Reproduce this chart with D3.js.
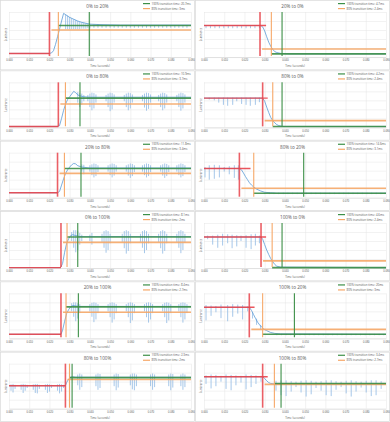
<!DOCTYPE html>
<html>
<head>
<meta charset="utf-8">
<script src="https://cdn.jsdelivr.net/npm/d3@7"></script>
<style>
  body { margin: 0; background: #fff; }
  svg { display: block; font-family: "Open Sans", "Liberation Sans", sans-serif; }
</style>
</head>
<body>
<div id="chart"></div>
<script>
// panel titles and legend texts
const titles = ["0% to 20%", "20% to 0%", "0% to 80%", "80% to 0%", "20% to 80%", "80% to 20%",
  "0% to 100%", "100% to 0%", "20% to 100%", "100% to 20%", "80% to 100%", "100% to 80%"];
const legend100 = ["20.7ms", "4.7ms", "10.9ms", "4.2ms", "11.8ms", "14.6ms",
  "8.1ms", "4.6ms", "8.4ms", "20ms", "2.3ms", "3.4ms"];
const legend80 = ["3ms", "2.4ms", "3.7ms", "2.4ms", "3.4ms", "3.1ms",
  "2ms", "2.4ms", "2.7ms", "3ms", "2ms", "2.7ms"];

// x ticks (ms)
const xTicks = [0, 10, 20, 30, 40, 50, 60, 70, 80, 90];

// marker lines (ms) and levels (% of plot height)
const tStart = [20, 27.7, 24.4, 29, 24, 17.5, 25.7, 28.2, 25.7, 22.4, 27.9, 29];
const t80 = [24.4, 33.3, 27.9, 34, 27.4, 24.6, 28.7, 33.7, 28.2, 29, 29.9, 34.8];
const t100 = [39.7, 38.6, 35.1, 38.6, 35.6, 49.3, 34, 38.6, 34.3, 44.7, 31.2, 38.1];
const levelStart = [8, 70, 2, 65, 11, 65, 1, 69, 9, 69, 51, 71];
const level80 = [60, 18, 52, 15, 54, 21, 57, 16, 58, 20, 65, 54];
const levelEnd = [70, 7, 65, 2, 65, 10, 69, 1, 70, 9, 69, 56];
const redEnd = [20, 30.7, 24.4, 31.5, 24, 23, 25.7, 30.7, 25.7, 25, 27.9, 31.5];

// luminance traces [ms, %]
const curves = [
  [[0,8],[20,8],[21,9],[22,14],[23,28],[24,45],[25,62],[26,80],[27,97],[28,94],[30,88],[32,84],[34,80],[36,77],[38,75],[40,73],[45,72],[55,71],[90,71]],
  [[0,70],[28,70],[29,67],[30,58],[31,45],[32,33],[33,24],[34,17],[35,12],[36,10],[38,8],[42,7],[90,7]],
  [[0,2],[24,2],[25,4],[26,20],[27,38],[28,52],[29,62],[30,68],[31,74],[32,80],[33,77],[34,72],[35,70],[37,68],[40,67],[90,67]],
  [[0,65],[29,65],[30,58],[31,45],[32,33],[33,22],[34,15],[35,10],[36,6],[37,4],[39,2],[90,2]],
  [[0,11],[24,11],[25,14],[26,28],[27,42],[28,54],[29,62],[30,68],[31,73],[32,76],[33,75],[34,71],[36,68],[40,66],[90,66]],
  [[0,65],[17.5,65],[18.5,62],[19.5,55],[20.5,47],[21.5,40],[22.5,33],[23.5,28],[24.5,24],[26,19],[28,15],[30,12],[33,11],[36,10],[90,10]],
  [[0,1],[25.5,1],[26.5,10],[27.5,35],[28.5,55],[29.5,65],[30.5,72],[31.5,74],[33,72],[35,70],[90,70]],
  [[0,69],[28.2,69],[29,64],[30,52],[31,40],[32,30],[33,21],[34,14],[35,8],[36,4],[38,2],[90,1]],
  [[0,9],[25.7,9],[26.5,18],[27.5,38],[28.5,55],[29.5,64],[30.5,70],[31.5,73],[33,72],[35,71],[90,71]],
  [[0,69],[22.4,69],[23.5,62],[24.5,53],[25.5,44],[26.5,36],[27.5,30],[28.5,25],[29.5,21],[31,17],[33,13],[35,11],[38,10],[90,9]],
  [[0,51],[27.9,51],[28.5,58],[29.5,66],[30.5,70],[31.5,71],[33,70],[90,70]],
  [[0,71],[29,71],[30,67],[31,62],[32,58],[33,56],[35,55],[90,55]]
];

// flicker spikes [ms, low %, high %]
const spikes = [
  [[28,62,95],[29,62,92],[30,62,89],[31,62,86],[32,62,84],[33,62,82],[34,62,80],[35,62,78],[36,63,77],[37,63,76],[38,63,75],[39,64,74],[40,64,73],
   [42,65,72],[44,65,72],[46,65,71],[48,65,71],[50,65,71],[52,65,71],[54,65,71],[56,65,71],[58,65,71],[60,65,71],[62,65,71],[64,65,71],[66,65,71],
   [68,65,71],[70,65,71],[72,65,71],[74,65,71],[76,65,71],[78,65,71],[80,65,71],[82,65,71],[84,65,71],[86,65,71],[88,65,71]],
  [[1,64,70],[3.2,64,70],[5.4,64,70],[7.6,64,70],[9.8,64,70],[12,64,70],[14.2,64,70],[16.4,64,70],[18.6,64,70],[20.8,64,70],[23,64,70],[25.2,64,70],[27.4,64,70]],
  [[34,55,78],[35,45,76],[36,50,75],[37,58,72],
   [39,58,72],[40,45,75],[41,38,77],[42,42,76],[43,55,73],
   [48,58,72],[49,45,75],[50,36,77],[51,40,76],[52,55,73],
   [57,58,72],[58,45,75],[59,38,77],[60,42,76],[61,55,73],
   [66,58,72],[67,44,75],[68,37,77],[69,41,76],[70,55,73],
   [74,58,72],[75,45,75],[76,38,77],[77,42,76],[78,55,73],
   [83,58,72],[84,45,75],[85,37,77],[86,42,76],[87,55,73]],
  [[2.6,62,66],[5.1,60,66],[7.3,55,66],[9.6,50,66],[11.7,48,66],[14.2,50,66],[16.2,58,66],[18.6,52,66],[20.8,50,66],[22.9,48,66],[25.4,50,66],[27.4,56,66]],
  [[36,58,74],[37,52,73],
   [40,58,72],[41,50,74],[42,45,76],[43,48,75],[44,57,72],
   [49,58,72],[50,50,74],[51,45,76],[52,49,75],[53,58,72],
   [58,58,72],[59,49,74],[60,44,76],[61,48,75],[62,57,72],
   [66,58,72],[67,50,74],[68,45,76],[69,48,75],[70,57,72],
   [75,58,72],[76,49,74],[77,44,76],[78,48,75],[79,57,72],
   [83,58,72],[84,50,74],[85,45,76],[86,48,75],[87,57,72]],
  [[0.5,45,68],[2.6,40,72],[5.1,42,73],[7.6,45,72],[10,58,68],[12.5,52,70],[15,44,72],[17,40,72],
   [30,8,11],[32.3,8,11],[34.6,8,11],[36.9,8,11],[39.2,8,11],[41.5,8,11],[43.8,8,11],[46.1,8,11],[48.4,8,11],[50.7,8,11],[53,8,11],
   [55.3,8,11],[57.6,8,11],[59.9,8,11],[62.2,8,11],[64.5,8,11],[66.8,8,11],[69.1,8,11],[71.4,8,11],[73.7,8,11],[76,8,11],[78.3,8,11],
   [80.6,8,11],[82.9,8,11],[85.2,8,11],[87.5,8,11],[89.5,8,11]],
  [[31,60,80],[32,45,84],[33,35,84],[34,40,82],[35,52,78],[36,60,74],
   [40,60,74],[41,52,78],
   [46,58,76],[47,45,82],[48,34,84],[49,40,82],[50,55,76],
   [56,58,76],[57,44,82],[58,32,84],[59,38,82],[60,55,76],
   [65,58,76],[66,45,82],[67,33,84],[68,40,82],[69,55,76],
   [74,58,76],[75,44,82],[76,32,84],[77,38,82],[78,55,76],
   [83,58,76],[84,45,82],[85,33,84],[86,40,82],[87,56,76]],
  [[1.8,64,72],[4.3,52,72],[6.8,45,74],[9.2,50,76],[11.7,55,75],[13.9,44,74],[16.2,48,73],[18.3,60,72],[20.8,45,73],[23.3,42,75],[25.4,50,76],[27.4,55,72]],
  [[31,60,78],[32,48,80],[33,38,80],[34,44,78],[35,56,76],
   [40,60,76],[41,48,79],[42,36,80],[43,42,79],[44,56,76],
   [49,60,76],[50,47,79],[51,35,80],[52,42,79],[53,56,76],
   [58,60,76],[59,47,79],[60,34,80],[61,40,79],[62,56,76],
   [67,60,76],[68,47,79],[69,35,80],[70,42,79],[71,56,76],
   [76,60,76],[77,47,79],[78,34,80],[79,40,79],[80,56,76],
   [84,60,76],[85,47,79],[86,35,80],[87,42,79],[88,56,76]],
  [[1,40,74],[3.5,50,73],[5.9,58,72],[8.4,45,75],[11.7,38,74],[14.2,48,76],[16.7,55,75],[19.1,42,74],[21.6,60,71],
   [24,44,58],[26,30,44],[28,20,30],
   [36,7,10],[38.3,7,10],[40.6,7,10],[42.9,7,10],[45.2,7,10],[47.5,7,10],[49.8,7,10],[52.1,7,10],[54.4,7,10],[56.7,7,10],[59,7,10],
   [61.3,7,10],[63.6,7,10],[65.9,7,10],[68.2,7,10],[70.5,7,10],[72.8,7,10],[75.1,7,10],[77.4,7,10],[79.7,7,10],[82,7,10],[84.3,7,10],
   [86.6,7,10],[88.9,7,10]],
  [[1,40,54],[2,36,55],[3,44,53],
   [6,42,54],[7,35,55],[8,40,54],[9,46,53],
   [12,42,54],[13,35,55],[14,34,55],[15,44,53],
   [18,42,54],[19,35,55],[20,38,54],[21,46,53],
   [24,40,54],[25,34,55],[26,38,54],[27,46,53],
   [34,52,76],[35,42,78],[36,48,76],
   [43,50,76],[44,42,78],[45,46,77],
   [52,50,76],[53,41,78],[54,47,77],
   [60,52,76],[61,43,78],[62,41,78],[63,50,76],
   [70,50,76],[71,42,78],[72,48,76],
   [79,50,76],[80,41,78],[81,47,77],
   [85,50,76],[86,42,78],[87,48,76]],
  [[1,55,74],[3.5,45,76],[5.9,50,75],[8.4,60,73],[10.9,44,76],[13.4,41,75],[15.8,52,74],[18.3,58,73],[20.8,43,76],[23.3,48,75],[25.7,55,74],[28.2,60,73],
   [35.6,40,62],[38.1,30,63],[40.6,28,63],[43.1,38,61],[45.5,48,60],[48,36,62],[50.5,27,63],[53,32,62],[55.4,46,60],[57.9,40,61],
   [60.4,30,63],[62.9,28,63],[65.3,42,61],[67.8,48,60],[70.3,34,62],[72.8,27,63],[75.2,38,61],[77.7,47,60],[80.2,36,62],[82.7,28,63],
   [85.1,30,63],[87.6,44,61]]
];

const panelW = 195, panelH = 422 / 6;
const margin = { top: 12, bottom: 13.3, left: 9, right: 4 };
const colRed = "#e8444c", colOrange = "#f6a868", colGreen = "#3c8f47", colBlue = "#5b9bd5", colSpike = "#8fb9e3";

const svg = d3.select("#chart").append("svg")
  .attr("width", 390)
  .attr("height", 422);

const x = d3.scaleLinear().domain([0, 90]).range([margin.left, panelW - margin.right]);
const y = d3.scaleLinear().domain([0, 100]).range([panelH - margin.bottom, margin.top]);

titles.forEach((title, i) => {
  const col = i % 2, row = Math.floor(i / 2);
  const g = svg.append("g")
    .attr("transform", `translate(${col * panelW}, ${row * panelH})`);

  // panel frame
  g.append("rect")
    .attr("x", 0.5).attr("y", 0.5)
    .attr("width", panelW - 1).attr("height", panelH - 1)
    .attr("fill", "#fff")
    .attr("stroke", "#d9d9d9")
    .attr("stroke-width", 0.7);

  // gridlines
  g.append("g")
    .attr("transform", `translate(0, ${y(0)})`)
    .call(d3.axisBottom(x).tickValues(xTicks).tickSize(-(y(0) - y(100))).tickFormat(""))
    .call(a => a.select(".domain").remove())
    .call(a => a.selectAll("line").attr("stroke", "#e4e4e4").attr("stroke-width", 0.5));
  g.append("g")
    .attr("transform", `translate(${x(0)}, 0)`)
    .call(d3.axisLeft(y).tickValues([0, 20, 40, 60, 80, 100]).tickSize(-(x(90) - x(0))).tickFormat(""))
    .call(a => a.select(".domain").remove())
    .call(a => a.selectAll("line").attr("stroke", "#e4e4e4").attr("stroke-width", 0.5));

  // x axis labels
  g.append("g")
    .attr("transform", `translate(0, ${y(0)})`)
    .call(d3.axisBottom(x).tickValues(xTicks).tickSize(0).tickPadding(2.5).tickFormat(d => (d / 1000).toFixed(3)))
    .call(a => a.select(".domain").attr("stroke", "#d0d0d0").attr("stroke-width", 0.5))
    .call(a => a.selectAll("text").attr("font-size", 2.6).attr("fill", "#595959").attr("font-family", null));

  g.append("text")
    .attr("x", (x(0) + x(90)) / 2)
    .attr("y", panelH - 3.2)
    .attr("text-anchor", "middle")
    .attr("font-size", 2.8)
    .attr("fill", "#595959")
    .text("Time (seconds)");

  g.append("text")
    .attr("transform", `translate(${x(0) - 2}, ${(y(0) + y(100)) / 2}) rotate(-90)`)
    .attr("text-anchor", "middle")
    .attr("font-size", 2.6)
    .attr("fill", "#595959")
    .text("Luminance");

  // title
  g.append("text")
    .attr("x", panelW / 2)
    .attr("y", 8)
    .attr("text-anchor", "middle")
    .attr("font-size", 4.6)
    .attr("fill", "#595959")
    .text(title);

  // legend
  const leg = [[colGreen, "100% transition time: " + legend100[i]], [colOrange, "80% transition time: " + legend80[i]]];
  leg.forEach((l, k) => {
    const ly = 3.6 + k * 5;
    g.append("line")
      .attr("x1", 143).attr("x2", 150).attr("y1", ly).attr("y2", ly)
      .attr("stroke", l[0]).attr("stroke-width", 1.2);
    g.append("text")
      .attr("x", 151.5).attr("y", ly + 1)
      .attr("font-size", 2.9)
      .attr("fill", "#595959")
      .text(l[1]);
  });

  // luminance trace
  g.selectAll(".spike")
    .data(spikes[i])
    .join("line")
    .attr("class", "spike")
    .attr("x1", d => x(d[0])).attr("x2", d => x(d[0]))
    .attr("y1", d => y(d[1])).attr("y2", d => y(d[2]))
    .attr("stroke", colSpike)
    .attr("stroke-width", 0.8);

  g.append("path")
    .datum(curves[i])
    .attr("fill", "none")
    .attr("stroke", colBlue)
    .attr("stroke-width", 0.8)
    .attr("d", d3.line().x(d => x(d[0])).y(d => y(d[1])));

  // level lines
  g.append("line")
    .attr("x1", x(tStart[i] + 1)).attr("x2", x(90))
    .attr("y1", y(level80[i])).attr("y2", y(level80[i]))
    .attr("stroke", colOrange).attr("stroke-width", 1.6).attr("opacity", 0.9);
  g.append("line")
    .attr("x1", x(t80[i])).attr("x2", x(90))
    .attr("y1", y(levelEnd[i])).attr("y2", y(levelEnd[i]))
    .attr("stroke", colGreen).attr("stroke-width", 1.6).attr("opacity", 0.9);
  g.append("line")
    .attr("x1", x(0)).attr("x2", x(redEnd[i]))
    .attr("y1", y(levelStart[i])).attr("y2", y(levelStart[i]))
    .attr("stroke", colRed).attr("stroke-width", 1.4).attr("opacity", 0.9);

  // transition markers
  [[tStart[i], colRed, 1.6, 0.85], [t80[i], colOrange, 1.1, 1], [t100[i], colGreen, 1.1, 1]].forEach(m => {
    g.append("line")
      .attr("x1", x(m[0])).attr("x2", x(m[0]))
      .attr("y1", y(100)).attr("y2", y(0) - 1)
      .attr("stroke", m[1]).attr("stroke-width", m[2]).attr("opacity", m[3]);
  });
});
</script>
</body>
</html>
